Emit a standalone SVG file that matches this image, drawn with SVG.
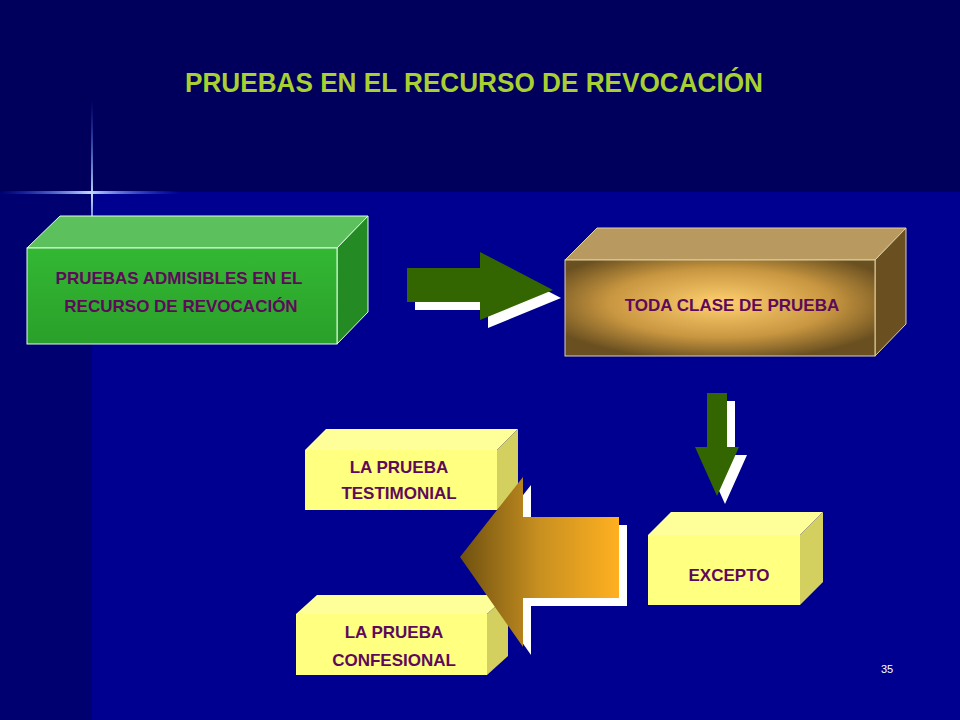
<svg xmlns="http://www.w3.org/2000/svg" width="960" height="720" viewBox="0 0 960 720">
<defs>
<style>
.t{font-family:"Liberation Sans",Arial,sans-serif;font-weight:bold;fill:#5e0a5a;text-anchor:middle}
.y{fill:#ffff80}.yt{fill:#ffff99}.ys{fill:#d4d060}
</style>
<linearGradient id="og" x1="0" x2="1" y1="0" y2="0"><stop offset="0" stop-color="#6e5010"/><stop offset="0.5" stop-color="#c89020"/><stop offset="1" stop-color="#ffb020"/></linearGradient>
<radialGradient id="gold" cx="0.5" cy="0.45" r="0.6"><stop offset="0" stop-color="#ffd070"/><stop offset="0.6" stop-color="#c89640"/><stop offset="1" stop-color="#6a5020"/></radialGradient>
<linearGradient id="gg" x1="0" x2="0" y1="0" y2="1"><stop offset="0" stop-color="#33b833"/><stop offset="1" stop-color="#2aa02a"/></linearGradient>
<linearGradient id="hl" x1="0" x2="1"><stop offset="0" stop-color="#3060ff" stop-opacity="0"/><stop offset="0.5" stop-color="#c0d8ff"/><stop offset="1" stop-color="#3060ff" stop-opacity="0"/></linearGradient>
<linearGradient id="vl" x1="0" x2="0" y1="0" y2="1"><stop offset="0" stop-color="#3060ff" stop-opacity="0"/><stop offset="0.5" stop-color="#c0d8ff"/><stop offset="1" stop-color="#3060ff" stop-opacity="0"/></linearGradient>
</defs>
<rect width="960" height="720" fill="#000090"/>
<rect width="960" height="192" fill="#00005c"/>
<rect x="0" y="192" width="92" height="528" fill="#000070"/>
<rect x="0" y="191" width="180" height="3" fill="url(#hl)"/>
<rect x="91" y="100" width="2" height="190" fill="url(#vl)"/>
<text x="474" y="92" style="font-family:'Liberation Sans',Arial,sans-serif;font-weight:bold;font-size:27px;fill:#a8d030;text-anchor:middle" textLength="578" lengthAdjust="spacingAndGlyphs">PRUEBAS EN EL RECURSO DE REVOCACIÓN</text>
<g id="admisibles">
<polygon points="27,248 60,216 368,216 337,248" fill="#5cc05c" stroke="#e0ffe0" stroke-width="1"/>
<polygon points="337,248 368,216 368,312 337,344" fill="#248a24" stroke="#e0ffe0" stroke-width="1"/>
<rect x="27" y="248" width="310" height="96" fill="url(#gg)" stroke="#e0ffe0" stroke-width="1"/>
<text class="t" x="179" y="284" font-size="17">PRUEBAS ADMISIBLES EN EL</text>
<text class="t" x="181" y="312" font-size="17">RECURSO DE REVOCACIÓN</text>
</g>
<g id="toda">
<polygon points="565,260 597,228 906,228 875,260" fill="#b89a60" stroke="#e0d0a0"/>
<polygon points="875,260 906,228 906,324 875,356" fill="#6a5020" stroke="#e0d0a0"/>
<rect x="565" y="260" width="310" height="96" fill="url(#gold)" stroke="#e0d0a0"/>
<text class="t" x="732" y="311" font-size="17">TODA CLASE DE PRUEBA</text>
</g>
<g id="testimonial">
<polygon points="305,450 326,429 518,429 497,450" class="yt"/>
<polygon points="497,450 518,429 518,489 497,510" class="ys"/>
<rect x="305" y="450" width="192" height="60" class="y"/>
<text class="t" x="399" y="473" font-size="17">LA PRUEBA</text>
<text class="t" x="399" y="499" font-size="17">TESTIMONIAL</text>
</g>
<g id="confesional">
<polygon points="296,614 317,595 508,595 487,614" class="yt"/>
<polygon points="487,614 508,595 508,656 487,675" class="ys"/>
<rect x="296" y="614" width="191" height="61" class="y"/>
<text class="t" x="394" y="638" font-size="17">LA PRUEBA</text>
<text class="t" x="394" y="666" font-size="17">CONFESIONAL</text>
</g>
<g id="excepto">
<polygon points="648,535 671,512 823,512 800,535" class="yt"/>
<polygon points="800,535 823,512 823,582 800,605" class="ys"/>
<rect x="648" y="535" width="152" height="70" class="y"/>
<text class="t" x="729" y="581" font-size="17">EXCEPTO</text>
</g>
<g id="connectors">
<polygon points="415,276 488,276 488,260 561,298 488,328 488,310 415,310" fill="#ffffff"/>
<polygon points="407,268 480,268 480,252 553,290 480,320 480,302 407,302" fill="#336600"/>
<polygon points="715,401 735,401 735,455 747,455 725,504 703,455 715,455" fill="#ffffff"/>
<polygon points="707,393 727,393 727,447 739,447 717,496 695,447 707,447" fill="#336600"/>
<polygon points="468,565 531,485 531,525 627,525 627,606 531,606 531,655" fill="#ffffff"/>
<polygon points="460,557 523,477 523,517 619,517 619,598 523,598 523,647" fill="url(#og)"/>
</g>
<text x="887" y="673" style="font-family:'Liberation Sans',Arial,sans-serif;font-size:11px;fill:#ffffff;text-anchor:middle">35</text>
</svg>
